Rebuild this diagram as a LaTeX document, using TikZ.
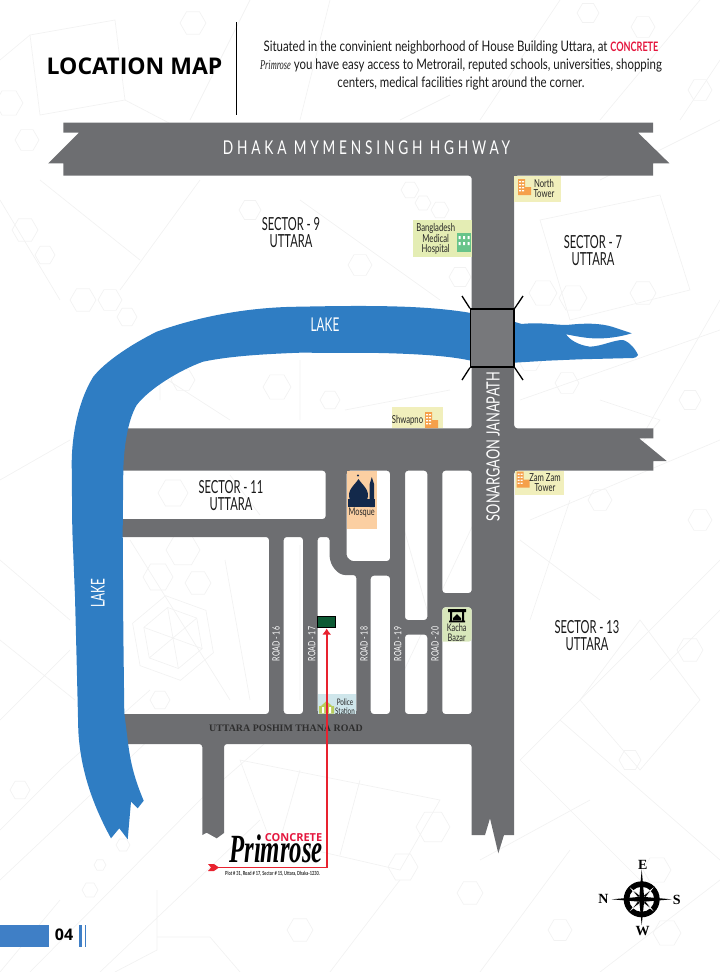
\documentclass[tikz,border=0pt]{standalone}
\usepackage{fontspec}
\usetikzlibrary{arrows.meta}
\setmainfont{Lato}
\newfontfamily\narrowfont[FakeStretch=0.7]{Lato}
\newfontfamily\introfont[FakeStretch=0.79]{Lato}
\newfontfamily\slimfont[FakeStretch=0.62]{Lato}
\newfontfamily\spacedfont[FakeStretch=0.72,LetterSpace=20]{Lato}
\newfontfamily\headfont{Open Sans}
\newfontfamily\thanafont{Liberation Serif}
\newfontfamily\logofont[FakeStretch=0.62]{Liberation Serif}
\definecolor{roadgray}{HTML}{6D6E71}
\definecolor{bridgegray}{HTML}{77787B}
\definecolor{lakeblue}{HTML}{2F7DC3}
\definecolor{pageblue}{HTML}{3F7FC6}
\definecolor{arrowred}{HTML}{E8222F}
\definecolor{logored}{HTML}{E4173E}
\definecolor{tagyellow}{HTML}{F1EFBC}
\definecolor{taggreen}{HTML}{E4EDB4}
\definecolor{tagorange}{HTML}{FBCFA2}
\definecolor{tagbazar}{HTML}{D8E7BB}
\definecolor{tagpolice}{HTML}{CFE6EB}
\definecolor{iconorange}{HTML}{F5A04B}
\definecolor{icongreen}{HTML}{68C48A}
\definecolor{policeolive}{HTML}{B9CC5C}
\definecolor{mosquenavy}{HTML}{13294B}
\definecolor{sitegreen}{HTML}{0D5A34}
\definecolor{ghost}{HTML}{F2F2F2}
\tikzset{
  ghostline/.style={draw=ghost,line width=0.7pt},
  sectorlabel/.style={font=\slimfont\fontsize{18}{17}\selectfont,align=center,text=black!90,inner sep=0pt},
  lakelabel/.style={font=\slimfont\fontsize{19}{19}\selectfont,text=white,inner sep=0pt},
  roadlabel/.style={font=\narrowfont\fontsize{10}{10}\selectfont,text=white,rotate=90,inner sep=0pt},
  taglabel/.style={font=\narrowfont\fontsize{11}{10}\selectfont,align=center,text=black!85,inner sep=0pt},
  compassletter/.style={font=\thanafont\bfseries\fontsize{14}{14}\selectfont,inner sep=0pt},
  towericon/.pic={
    \fill[iconorange] (-4,-8) rectangle (3,8) (3,0) rectangle (9,8);
    \foreach \wy in {-6,-3,0,3}
      \fill[white] (-3,\wy) rectangle (-1,\wy+1.4) (0,\wy) rectangle (2,\wy+1.4);
  }
}
\begin{document}
\begin{tikzpicture}[x=1pt,y=-1pt]
  \useasboundingbox (0,0) rectangle (720,972);
  % faint plan behind the map
  \foreach \tx/\ty/\tr in {193/23/13,588/13/11,643/27/12,9/103/14,27/140/12,83/300/13,110/300/12,127/317/10,
      183/380/12,277/387/14,173/493/15,158/577/15,183/550/17,198/583/13,160/700/10,410/190/9,423/203/8,440/210/9,
      460/277/11,543/293/14,573/298/14,643/293/13,530/360/12,567/383/12,657/870/14,667/933/14,433/827/17,
      403/867/15,470/893/13,90/890/8,100/865/6,123/845/7,690/400/11,690/650/13,600/500/12,630/760/11,
      25/230/13,45/255/10,700/90/12,330/400/10,250/210/11,360/265/12,700/520/12,560/930/12,300/930/13,20/790/10}
    \draw[ghostline] (\tx,\ty) +(0:\tr) -- +(60:\tr) -- +(120:\tr) -- +(180:\tr) -- +(240:\tr) -- +(300:\tr) -- cycle;
  \draw[ghostline] (173,638) +(20:31) -- +(80:31) -- +(140:31) -- +(200:31) -- +(260:31) -- +(320:31) -- cycle;
  \draw[ghostline] (173,638) +(20:31) -- +(200:31) +(80:31) -- +(260:31) +(140:31) -- +(320:31);
  \draw[ghostline] (173,638) +(20:43) -- +(80:43) -- +(140:43) -- +(200:43) -- +(260:43) -- +(320:43) -- cycle;
  \draw[ghostline] (30,35) -- (115,20) -- (125,100) -- (40,115) -- cycle;
  \draw[ghostline] (0,60) -- (30,35) (125,100) -- (240,160) (250,0) -- (190,120);
  \draw[ghostline] (300,120) -- (330,0) (480,120) -- (560,0) (600,120) -- (700,0) (680,120) -- (720,60) (400,120) -- (450,95);
  \draw[ghostline] (0,830) -- (60,770) -- (150,690) (0,880) -- (170,720) (30,972) -- (200,800) -- (280,730);
  \draw[ghostline] (100,972) -- (260,820) (157,890) -- (157,950) -- (115,972) (157,937) -- (210,937) -- (240,972);
  \draw[ghostline] (240,760) -- (440,800) -- (400,870) -- (270,840) -- cycle (300,770) -- (280,840) (360,780) -- (340,855);
  \draw[ghostline] (520,760) -- (640,880) (560,720) -- (720,860) (640,620) -- (700,700) -- (640,770) -- (580,700) -- cycle;
  \draw[ghostline] (720,560) -- (520,760) (720,610) -- (650,680) (520,540) -- (600,600) (570,500) -- (530,620);
  \draw[ghostline] (720,300) -- (640,440) (540,220) -- (660,195) -- (690,290) -- (570,320) -- cycle (600,180) -- (720,120);
  \draw[ghostline] (0,480) -- (70,440) (0,560) -- (70,620) (0,720) -- (70,650) (0,640) -- (75,700);
  \draw[ghostline] (200,180) -- (120,290) (0,200) -- (60,300) (300,200) -- (440,300) (140,260) -- (40,180);
  \draw[ghostline] (225,560) -- (250,700) (130,540) -- (230,700) (390,480) -- (430,620) (480,510) -- (390,700);
  \draw[ghostline] (160,400) -- (160,375) -- (230,420) (300,360) -- (300,420) (230,475) -- (260,515) (345,410) -- (450,390);
  \draw[ghostline] (520,400) -- (720,330) (530,520) -- (720,440) (600,400) -- (660,420) -- (620,470) (300,545) -- (300,700);
  \draw[ghostline] (0,972) -- (60,900) (330,972) -- (400,880) (480,972) -- (570,850) (480,860) -- (590,800) (600,972) -- (720,880);
  % roads, the town blocks are holes in them
  \fill[roadgray,even odd rule,rounded corners=3pt]
    [sharp corners] (63.4,122.7) -- (653,122.7) -- (653,132.7) -- (638,132.7) -- (669.4,163.3) -- (653,163.3) -- (653,175.7)
    [rounded corners=3pt] -- (514.2,175.7) -- (514.2,428.3)
    [sharp corners] -- (653.3,428.3) -- (653.3,438.3) -- (639,438.3) -- (666.7,461) -- (653.3,461) -- (653.3,470.7)
    [rounded corners=3pt] -- (514.2,470.7)
    [sharp corners] -- (514.2,835) -- (504,835) -- (498.3,853.3) -- (490,818.3) -- (485,835) -- (471.7,835)
    [rounded corners=3pt] -- (471.7,744) -- (224,744)
    [sharp corners] -- (224,833) -- (216.7,838.3) -- (206.7,832.7) -- (202.3,835)
    [rounded corners=3pt] -- (202.3,744)
    [sharp corners] -- (110,744) -- (110,428.3)
    [rounded corners=3pt] -- (471.7,428.3) -- (471.7,175.7)
    [sharp corners] -- (63.4,175.7) -- (63.4,163.3) -- (48.2,163.3) -- (79,132.7) -- (63.4,132.7) -- cycle
    [rounded corners=3pt]
    (110,470.7) -- (325.7,470.7) -- (325.7,519) -- (110,519) -- cycle
    (110,537) -- (269,537) -- (269,714) -- (110,714) -- cycle
    (283.7,537) -- (303,537) -- (303,714) -- (283.7,714) -- cycle
    (317.7,537) -- (329.5,537) -- (329.5,553) .. controls (330,566) and (338,575) .. (348,575) -- (356.3,575) -- (356.3,714) -- (317.7,714) -- cycle
    (346.7,470.7) -- (390,470.7) -- (390,561) -- (356,561) .. controls (351,561) and (346.7,558) .. (346.7,552) -- cycle
    (370.7,575.7) -- (390,575.7) -- (390,714) -- (370.7,714) -- cycle
    (405,470.7) -- (427.3,470.7) -- (427.3,620) -- (405,620) -- cycle
    (405,634.5) -- (427.3,634.5) -- (427.3,714) -- (405,714) -- cycle
    (442.3,470.7) -- (471.7,470.7) -- (471.7,593) -- (442.3,593) -- cycle
    (442.3,607.3) -- (471.7,607.3) -- (471.7,714) -- (442.3,714) -- cycle;
  % the lake
  \fill[lakeblue]
    (471,313) .. controls (430,306) and (380,305) .. (300,306.7)
    .. controls (250,307) and (200,316) .. (156.7,331.7)
    .. controls (130,345) and (105,362) .. (93.3,376.7)
    .. controls (80,398) and (72,430) .. (71.7,463)
    -- (72.3,530) -- (75,596.7) -- (76.7,663) -- (78.3,730)
    .. controls (80,765) and (90,800) .. (111,838.3)
    -- (119.3,828.3) -- (127.7,839.3) -- (131,801.7) -- (137.7,808.3) -- (143.7,800.7)
    .. controls (135,780) and (131,765) .. (128.3,745)
    -- (124.3,713) -- (123.3,630) -- (122.7,530) -- (123.3,470)
    .. controls (124,445) and (128,420) .. (136.7,405)
    .. controls (150,388) and (180,370) .. (203,361.7)
    .. controls (230,356) and (265,354) .. (300,352.7)
    -- (380,353) .. controls (420,354) and (450,356) .. (471,360.7) -- cycle;
  \fill[lakeblue]
    (514,321.7) -- (521.7,324) .. controls (540,322) and (555,325) .. (566.7,325)
    .. controls (585,323) and (600,323) .. (613,327) -- (631.7,333.3)
    .. controls (620,337) and (605,339) .. (593,338.3) .. controls (585,338) and (575,336) .. (566,334.3)
    .. controls (570,340) and (578,345) .. (590,346.7) .. controls (603,346) and (613,340) .. (623,340)
    .. controls (630,342) and (636,350) .. (638,355) .. controls (637,357) and (635,358) .. (633,358)
    -- (580,359.3) -- (546.7,360.7) -- (514,362.7) -- cycle;
  % bridge
  \node[draw=black,line width=1.3pt,fill=bridgegray,minimum width=43.5pt,minimum height=58pt,inner sep=0pt] (bridge) at (492.3,338) {};
  \coordinate (wingnw) at (462,296);
  \coordinate (wingne) at (523,296);
  \coordinate (wingsw) at (462,380);
  \coordinate (wingse) at (523,380);
  \draw[line width=1.3pt] (bridge.north west) -- (wingnw);
  \draw[line width=1.3pt] (bridge.north east) -- (wingne);
  \draw[line width=1.3pt] (bridge.south west) -- (wingsw);
  \draw[line width=1.3pt] (bridge.south east) -- (wingse);
  % heading
  \node[font=\headfont\bfseries\fontsize{23}{23}\selectfont,inner sep=0pt] (title) at (134.5,66) {LOCATION MAP};
  \draw[line width=1.5pt] (236.4,22) -- (236.4,115);
  \node[font=\introfont\fontsize{14.5}{18}\selectfont,align=center,text=black!90,inner sep=0pt] (intro) at (461,65)
    {Situated in the convinient neighborhood of House Building Uttara, at {\narrowfont\fontsize{13}{18}\selectfont\bfseries\color{logored}CONCRETE}\\
     {\logofont\itshape\fontsize{13.5}{18}\selectfont Primrose} you have easy access to Metrorail, reputed schools, universities, shopping\\
     centers, medical facilities right around the corner.};
  \node[font=\spacedfont\fontsize{19}{19}\selectfont,text=white,inner sep=0pt] (highway) at (366.5,148) {DHAKA MYMENSINGH HGHWAY};
  % sectors and water
  \node[sectorlabel] (sector9) at (291,233) {SECTOR - 9\\UTTARA};
  \node[sectorlabel] (sector7) at (593,251) {SECTOR - 7\\UTTARA};
  \node[sectorlabel] (sector11) at (231,496) {SECTOR - 11\\UTTARA};
  \node[sectorlabel] (sector13) at (587,636) {SECTOR - 13\\UTTARA};
  \node[lakelabel] (laketop) at (325,325) {LAKE};
  \node[lakelabel,rotate=90] (lakeleft) at (97.7,593) {LAKE};
  \node[font=\narrowfont\fontsize{18.3}{19}\selectfont,text=white,inner sep=0pt,rotate=90] (janapath) at (493,446.5) {SONARGAON JANAPATH};
  \node[roadlabel] (road16) at (276,644) {ROAD - 16};
  \node[roadlabel] (road17) at (311.7,644) {ROAD - 17};
  \node[roadlabel] (road18) at (364,644) {ROAD - 18};
  \node[roadlabel] (road19) at (397.7,644) {ROAD - 19};
  \node[roadlabel] (road20) at (435,644) {ROAD - 20};
  \node[font=\thanafont\bfseries\fontsize{9.9}{9.9}\selectfont,text=black!82,inner sep=0pt] (thana) at (286,728.5) {UTTARA POSHIM THANA ROAD};
  % places along the roads
  \fill[tagyellow] (514.3,176) rectangle (561,202.3);
  \pic at (522,187) {towericon};
  \node[taglabel] (north) at (544,188) {North\\Tower};
  \fill[taggreen] (412.7,220) rectangle (471.7,256.7);
  \fill[icongreen] (457,233) rectangle (471,252);
  \foreach \wx in {459.5,464,468.5}
    \fill[white] (\wx-1,236) rectangle (\wx+1,239) (\wx-1,242) rectangle (\wx+1,245);
  \node[taglabel] (medical) at (435.7,239) {Bangladesh\\Medical\\Hospital};
  \fill[tagyellow] (392,407.3) rectangle (443.3,428.3);
  \pic at (429,420) {towericon};
  \node[taglabel] (shwapno) at (407.5,420.5) {Shwapno};
  \fill[tagyellow] (515,471) rectangle (564,495);
  \pic at (520.5,479.5) {towericon};
  \node[taglabel] (zamzam) at (545,482.7) {Zam Zam\\Tower};
  \fill[tagorange] (346.7,471) rectangle (377,529.3);
  \fill[mosquenavy] (348,507) rectangle (375,499);
  \fill[mosquenavy] (350,500) .. controls (346,490) and (355,485) .. (358.5,479) .. controls (362,485) and (371,490) .. (367,500) -- cycle;
  \fill[mosquenavy] (369.7,507) rectangle (374,484) (371.8,477) -- (374,484) -- (369.7,484) -- cycle;
  \fill[mosquenavy] (358,475.5) circle (1.2pt);
  \node[taglabel,font=\narrowfont\fontsize{10.5}{10.5}\selectfont] (mosque) at (361.7,513) {Mosque};
  \fill[tagbazar,rounded corners=3pt] (442.3,641.7) -- (442.3,607.3) -- (471.7,607.3) -- (471.7,641.7) [sharp corners] -- cycle;
  \fill[black] (448,609) rectangle (466,612) (450,612) rectangle (452,621) (462,612) rectangle (464,621) (449,620.5) rectangle (465,622.3) (453,618) -- (457,614) -- (461,618) -- (461,621) -- (453,621) -- cycle;
  \node[taglabel,font=\narrowfont\fontsize{10.5}{10}\selectfont] (bazar) at (456.7,632.5) {Kacha\\Bazar};
  \fill[tagpolice] (317.7,694.3) rectangle (356.3,714.3);
  \fill[policeolive] (319,706) rectangle (334,713.5) (321,706) -- (326.5,701) -- (332,706) -- cycle;
  \fill[white] (322,707) rectangle (324,713) (329,707) rectangle (331,713);
  \node[taglabel,font=\narrowfont\fontsize{9}{9}\selectfont] (police) at (345,706.3) {Police\\Station};
  % plot and way to it
  \node[draw=black,line width=0.5pt,fill=sitegreen,minimum width=17.5pt,minimum height=11.5pt,inner sep=0pt] (site) at (326,621.8) {};
  \coordinate (bend) at (326.7,867.5);
  \coordinate (tail) at (217,867.5);
  \draw[arrowred,line width=1.6pt,-{Latex[length=6pt,width=9pt]}] (tail) -- (bend) -- (326.7,628.5);
  \fill[arrowred] (208,864) -- (214,864) -- (219,867.5) -- (214,871) -- (208,871) -- (211,867.5) -- cycle;
  % logo
  \node[font=\logofont\bfseries\itshape\fontsize{40}{40}\selectfont,inner sep=0pt,anchor=base west] (logoname) at (229,862) {Primrose};
  \node[font=\headfont\bfseries\fontsize{11}{11}\selectfont,text=logored,inner sep=0pt] (logohead) at (293.5,837.5) {CONCRETE};
  \node[font=\narrowfont\bfseries\fontsize{5.6}{5.6}\selectfont,text=black!85,inner sep=0pt] (address) at (272.5,874) {Plot \# 31, Road \# 17, Sector \# 15, Uttara, Dhaka-1230.};
  % compass
  \begin{scope}[shift={(641.7,899.3)}]
    \fill[even odd rule] (0,0) circle (18pt) circle (12.5pt);
    \foreach \ca in {45,135,225,315}
      \fill[black,draw=white,line width=0.5pt] (\ca:15) -- (\ca+22:4) -- (\ca-22:4) -- cycle;
    \fill (-30,0) -- (0,-2.6) -- (30,0) -- (0,2.6) -- cycle;
    \fill (0,-30) -- (-2.6,0) -- (0,26) -- (2.6,0) -- cycle;
    \node[compassletter] (east) at (1,-34.3) {E};
    \node[compassletter] (north) at (-38.4,0) {N};
    \node[compassletter] (south) at (35,0.7) {S};
    \node[compassletter] (west) at (1,31.4) {W};
  \end{scope}
  % page number
  \fill[pageblue] (0,925) rectangle (49,946.7);
  \node[font=\headfont\bfseries\fontsize{16}{16}\selectfont,inner sep=0pt] (pagenr) at (64,935) {04};
  \fill[pageblue] (79.3,925) rectangle (81.7,947);
  \fill[pageblue] (85.4,925) rectangle (86,947);
\end{tikzpicture}
\end{document}
